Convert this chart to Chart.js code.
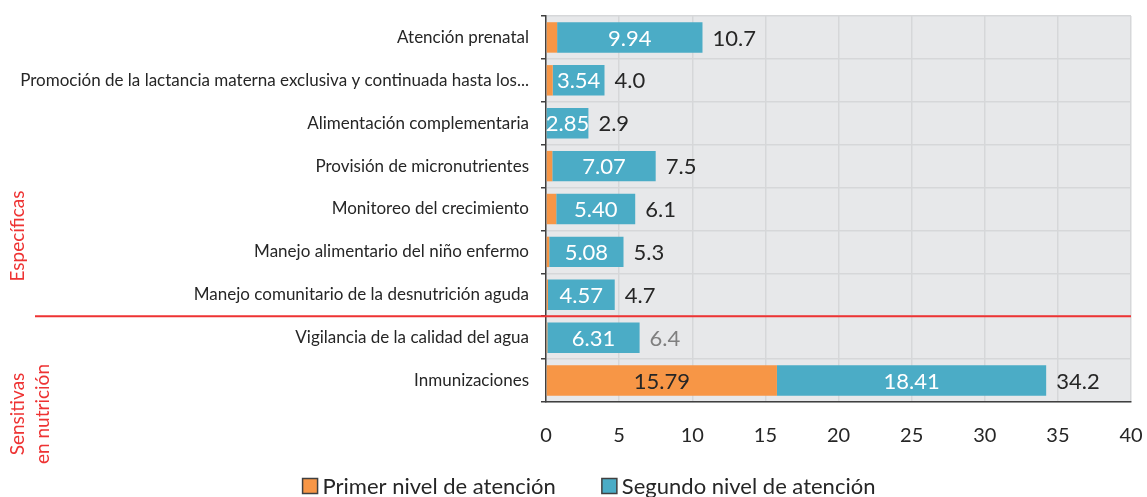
<!DOCTYPE html>
<html>
<head>
<meta charset="utf-8">
<script src="https://cdn.jsdelivr.net/npm/chart.js@4.4.1/dist/chart.umd.min.js"></script>
<style>
  html, body { margin: 0; padding: 0; background: #fff; }
  #wrap { width: 1147px; height: 497px; }
</style>
</head>
<body>
<div id="wrap"><canvas id="chart" width="1147" height="497"></canvas></div>
<script>
// Chart data
const categories = [
    'Atención prenatal',
    'Promoción de la lactancia materna exclusiva y continuada hasta los...',
    'Alimentación complementaria',
    'Provisión de micronutrientes',
    'Monitoreo del crecimiento',
    'Manejo alimentario del niño enfermo',
    'Manejo comunitario de la desnutrición aguda',
    'Vigilancia de la calidad del agua',
    'Inmunizaciones'
];
const primerNivel = [0.76, 0.46, 0.05, 0.43, 0.70, 0.22, 0.13, 0.09, 15.79];
const segundoNivel = [9.94, 3.54, 2.85, 7.07, 5.40, 5.08, 4.57, 6.31, 18.41];
const totals = ['10.7', '4.0', '2.9', '7.5', '6.1', '5.3', '4.7', '6.4', '34.2'];
const xTicks = [0, 5, 10, 15, 20, 25, 30, 35, 40];
const groupLabels = [['Específicas'], ['Sensitivas', 'en nutrición']];

const FONT = 'Lato, "Noto Sans", sans-serif';

// Gray plot background
const plotBackground = {
    id: 'plotBackground',
    beforeDraw(chart) {
        const { ctx, chartArea: a } = chart;
        ctx.save();
        ctx.fillStyle = '#e7e8ea';
        ctx.fillRect(a.left, a.top, a.right - a.left, a.bottom - a.top);
        ctx.restore();
    }
};

// Value labels, totals, separator line and group titles
const annotations = {
    id: 'annotations',
    afterDatasetsDraw(chart) {
        const { ctx, chartArea: a } = chart;
        const y = chart.scales.y;
        ctx.save();
        ctx.textBaseline = 'middle';
        ctx.font = `22px ${FONT}`;

        const m0 = chart.getDatasetMeta(0);
        const m1 = chart.getDatasetMeta(1);
        categories.forEach((c, i) => {
            const yc = y.getPixelForValue(i) + 1;
            // segment labels
            if (primerNivel[i] > 2) {
                const b = m0.data[i];
                ctx.fillStyle = '#262626';
                ctx.textAlign = 'center';
                ctx.fillText(primerNivel[i].toFixed(2), (b.base + b.x) / 2, yc);
            }
            const b1 = m1.data[i];
            ctx.fillStyle = '#ffffff';
            ctx.textAlign = 'center';
            ctx.fillText(segundoNivel[i].toFixed(2), (b1.base + b1.x) / 2, yc);
            // totals
            ctx.fillStyle = i === 7 ? '#7f7f7f' : '#262626';
            ctx.textAlign = 'left';
            ctx.fillText(totals[i], b1.x + 10, yc);
        });

        // red separator between the two groups
        const ySep = (y.getPixelForValue(6) + y.getPixelForValue(7)) / 2;
        ctx.strokeStyle = '#ee3333';
        ctx.lineWidth = 2;
        ctx.beginPath();
        ctx.moveTo(35, ySep);
        ctx.lineTo(a.right, ySep);
        ctx.stroke();

        // rotated group titles
        ctx.fillStyle = '#ee3333';
        ctx.font = `19px ${FONT}`;
        ctx.textAlign = 'center';
        const drawRot = (lines, cx, cy) => {
            ctx.save();
            ctx.translate(cx, cy);
            ctx.rotate(-Math.PI / 2);
            lines.forEach((t, k) => {
                ctx.fillText(t, 0, (k - (lines.length - 1) / 2) * 25);
            });
            ctx.restore();
        };
        drawRot(groupLabels[0], 18, 236);
        drawRot(groupLabels[1], 30, 414);
        ctx.restore();
    }
};

// Legend drawn under the axis, centred
const bottomLegend = {
    id: 'bottomLegend',
    afterDraw(chart) {
        const ctx = chart.ctx;
        const ds = chart.data.datasets;
        ctx.save();
        ctx.font = `22px ${FONT}`;
        ctx.textBaseline = 'middle';
        ctx.textAlign = 'left';
        const box = 15, gapBox = 5, gapItem = 46, cy = 486;
        const widths = ds.map(d => box + gapBox + ctx.measureText(d.label).width);
        const total = widths.reduce((s, w) => s + w, 0) + gapItem * (ds.length - 1);
        let x = 589 - total / 2;
        ds.forEach((d, i) => {
            ctx.fillStyle = d.backgroundColor;
            ctx.fillRect(x, cy - box / 2, box, box);
            ctx.strokeStyle = '#404040';
            ctx.lineWidth = 1.5;
            ctx.strokeRect(x, cy - box / 2, box, box);
            ctx.fillStyle = '#262626';
            ctx.fillText(d.label, x + box + gapBox, cy + 1);
            x += widths[i] + gapItem;
        });
        ctx.restore();
    }
};

new Chart(document.getElementById('chart'), {
    type: 'bar',
    data: {
        labels: categories,
        datasets: [
            {
                label: 'Primer nivel de atención',
                data: primerNivel,
                backgroundColor: '#f79646',
                borderWidth: 0,
                barPercentage: 0.71,
                categoryPercentage: 1
            },
            {
                label: 'Segundo nivel de atención',
                data: segundoNivel,
                backgroundColor: '#4bacc6',
                borderWidth: 0,
                barPercentage: 0.71,
                categoryPercentage: 1
            }
        ]
    },
    options: {
        indexAxis: 'y',
        responsive: false,
        animation: false,
        layout: { padding: { left: 0, right: 16, top: 16, bottom: 40 } },
        plugins: {
            legend: { display: false },
            tooltip: { enabled: false }
        },
        scales: {
            x: {
                stacked: true,
                min: 0,
                max: 40,
                afterBuildTicks(scale) {
                    scale.ticks = xTicks.map(v => ({ value: v }));
                },
                ticks: {
                    font: { family: FONT, size: 20 },
                    color: '#262626',
                    padding: 22
                },
                grid: { color: '#d6d7d9', lineWidth: 1.5, drawTicks: false },
                border: { color: '#404040', width: 1.5 },
                afterFit(scale) {
                    scale.height = 55;
                    scale.paddingLeft = 0;
                    scale.paddingRight = 0;
                }
            },
            y: {
                stacked: true,
                ticks: {
                    font: { family: FONT, size: 17 },
                    color: '#262626',
                    padding: 12
                },
                grid: {
                    color: '#d6d7d9',
                    lineWidth: 1.5,
                    tickColor: '#404040',
                    tickLength: 5,
                    offset: true
                },
                border: { color: '#404040', width: 1.5 },
                afterFit(scale) {
                    scale.width = 546;
                    scale.paddingTop = 0;
                    scale.paddingBottom = 0;
                }
            }
        }
    },
    plugins: [plotBackground, annotations, bottomLegend]
});
</script>
</body>
</html>
